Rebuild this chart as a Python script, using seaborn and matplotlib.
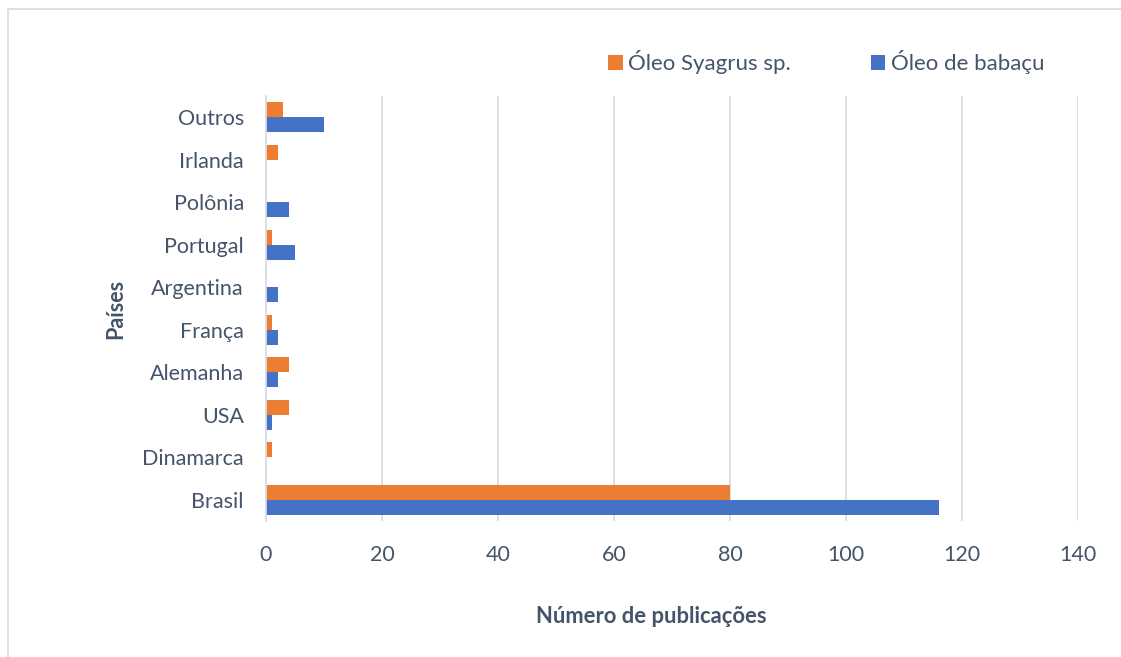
import matplotlib
matplotlib.use("Agg")
import matplotlib.pyplot as plt
import seaborn as sns
import pandas as pd
from matplotlib.patches import Rectangle

# countries listed top to bottom as on the chart
paises = ["Outros", "Irlanda", "Polônia", "Portugal", "Argentina",
          "França", "Alemanha", "USA", "Dinamarca", "Brasil"]
syagrus = [3, 2, 0, 1, 0, 1, 4, 4, 1, 80]
babacu = [10, 0, 4, 5, 2, 2, 2, 1, 0, 116]
series = ["Óleo Syagrus sp.", "Óleo de babaçu"]

df = pd.concat([
    pd.DataFrame({"País": paises, "Publicações": syagrus, "Série": series[0]}),
    pd.DataFrame({"País": paises, "Publicações": babacu, "Série": series[1]}),
])

sns.set_style("white")
plt.rcParams["font.family"] = ["Lato", "DejaVu Sans"]
txt = "#44546A"
grid = "#D9DDE4"

fig = plt.figure(figsize=(11.21, 6.57), dpi=100)
ax = fig.add_axes([266 / 1121, 1 - 521 / 657, (1078 - 266) / 1121, 425 / 657])

sns.barplot(data=df, y="País", x="Publicações", hue="Série", order=paises,
            hue_order=series, palette=["#ED7D31", "#4472C4"], width=0.7,
            orient="h", saturation=1, linewidth=0, ax=ax)

ax.set_xlim(0, 140)
ax.set_xticks(range(0, 141, 20))
ax.xaxis.grid(True, color=grid, linewidth=1.3)
ax.set_axisbelow(True)
for s in ["top", "right", "bottom"]:
    ax.spines[s].set_visible(False)
ax.spines["left"].set_color(grid)
ax.spines["left"].set_linewidth(1.3)
ax.tick_params(axis="both", length=0, labelsize=15.5, labelcolor=txt)
ax.tick_params(axis="x", pad=17)
ax.tick_params(axis="y", pad=16)

ax.set_xlabel("Número de publicações", fontsize=15.8, fontweight="bold", color=txt)
ax.xaxis.set_label_coords(0.474, -0.2)
ax.set_ylabel("Países", fontsize=15.5, fontweight="bold", color=txt)
ax.yaxis.set_label_coords(-0.172, 0.5)

ax.legend(loc="center", bbox_to_anchor=(0.69, 1.08), ncol=2, frameon=False,
          fontsize=16, labelcolor=txt, handlelength=0.65, handleheight=0.65,
          handletextpad=0.25, columnspacing=3.6)

fig.patches.append(Rectangle((8 / 1121, -0.1), 1.2, 1 - 9 / 657 + 0.1,
                             transform=fig.transFigure, fill=False,
                             edgecolor=grid, linewidth=1.3))

fig.savefig("out.png", dpi=100)
